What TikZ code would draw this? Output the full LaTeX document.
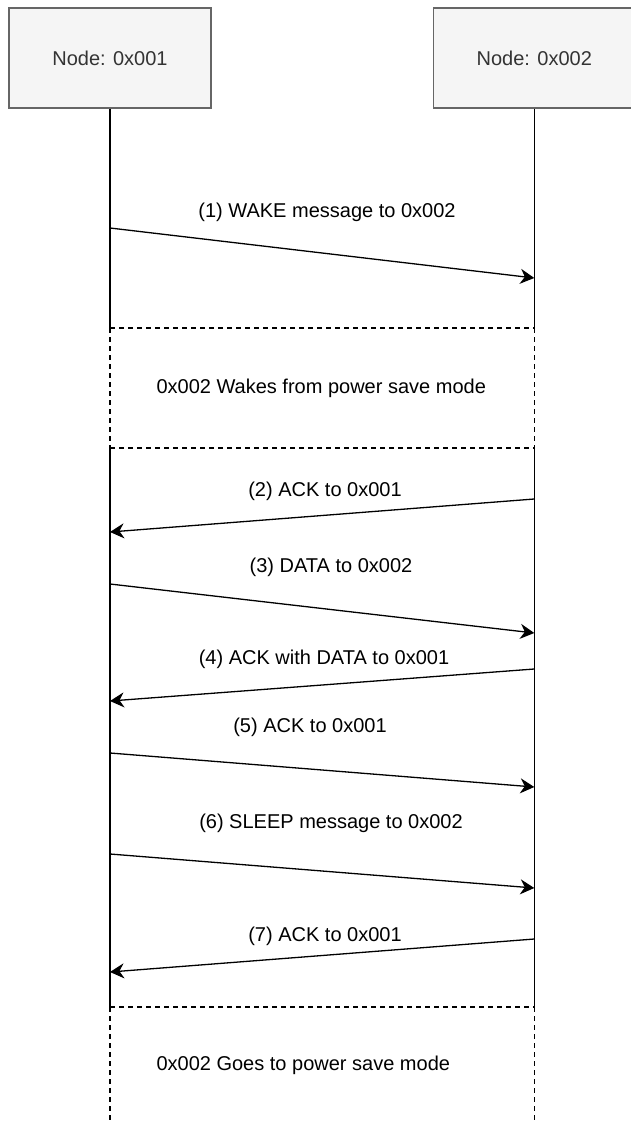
\documentclass[tikz,border=0pt]{standalone}
\usepackage{fontspec}
\setmainfont{Liberation Sans}
\usepackage{tikz}
\usetikzlibrary{arrows.meta, positioning, calc}
\definecolor{headfill}{HTML}{F5F5F5}
\definecolor{headdraw}{HTML}{666666}

\begin{document}
\begin{tikzpicture}[
    x=1pt, y=-1pt,
    every node/.style={font=\fontsize{20}{24}\selectfont},
    head/.style={rectangle, draw=headdraw, fill=headfill, line width=1.3pt,
                 minimum width=202pt, minimum height=100pt, text=black!80},
    life/.style={line width=1.3pt},
    gap/.style={line width=1.1pt, dash pattern=on 5pt off 4pt},
    msg/.style={-{Stealth[length=14pt, width=15pt, inset=4.5pt]}, line width=1.3pt},
    lbl/.style={anchor=base},
    note/.style={anchor=base west},
]
    \useasboundingbox (0,0) rectangle (631,1124);

    % Lifeline heads
    \node[head] (n1) at (110,58) {Node: 0x001};
    \node[head, right=221pt of n1] (n2) {Node: 0x002};

    % Lifeline break points
    \foreach \p/\y in {wa/328, wb/448, sa/1007, sb/1124} {
        \coordinate (\p1) at (n1 |- 0,\y);
        \coordinate (\p2) at (n2 |- 0,\y);
    }

    % Lifelines
    \draw[life] (n1.south) -- (wa1);
    \draw[life] (n2.south) -- (wa2);
    \draw[gap] (wa1) -- (wa2);
    \draw[gap] (wa1) -- (wb1);
    \draw[gap] (wa2) -- (wb2);
    \draw[gap] (wb1) -- (wb2);
    \draw[life] (wb1) -- (sa1);
    \draw[life] (wb2) -- (sa2);
    \draw[gap] (sa1) -- (sa2);
    \draw[gap] (sa1) -- (sb1);
    \draw[gap] (sa2) -- (sb2);

    % Notes
    \node[note] (wake) at (153,393) {0x002 Wakes from power save mode};
    \node[note] (sleep) at (153,1070) {0x002 Goes to power save mode};

    % Message end points
    \coordinate (s1) at (n1 |- 0,228);  \coordinate (t1) at (n2 |- 0,278);
    \coordinate (s2) at (n2 |- 0,499);  \coordinate (t2) at (n1 |- 0,532);
    \coordinate (s3) at (n1 |- 0,584);  \coordinate (t3) at (n2 |- 0,633);
    \coordinate (s4) at (n2 |- 0,669);  \coordinate (t4) at (n1 |- 0,701);
    \coordinate (s5) at (n1 |- 0,753);  \coordinate (t5) at (n2 |- 0,787);
    \coordinate (s6) at (n1 |- 0,854);  \coordinate (t6) at (n2 |- 0,888);
    \coordinate (s7) at (n2 |- 0,939);  \coordinate (t7) at (n1 |- 0,972);

    % Messages
    \draw[msg] (s1) -- (t1);
    \node[lbl] (l1) at (327,217) {(1) WAKE message to 0x002};
    \draw[msg] (s2) -- (t2);
    \node[lbl] (l2) at (325,496) {(2) ACK to 0x001};
    \draw[msg] (s3) -- (t3);
    \node[lbl] (l3) at (331,572) {(3) DATA to 0x002};
    \draw[msg] (s4) -- (t4);
    \node[lbl] (l4) at (324,664) {(4) ACK with DATA to 0x001};
    \draw[msg] (s5) -- (t5);
    \node[lbl] (l5) at (310,732) {(5) ACK to 0x001};
    \draw[msg] (s6) -- (t6);
    \node[lbl] (l6) at (331,828) {(6) SLEEP message to 0x002};
    \draw[msg] (s7) -- (t7);
    \node[lbl] (l7) at (325,941) {(7) ACK to 0x001};
\end{tikzpicture}
\end{document}
